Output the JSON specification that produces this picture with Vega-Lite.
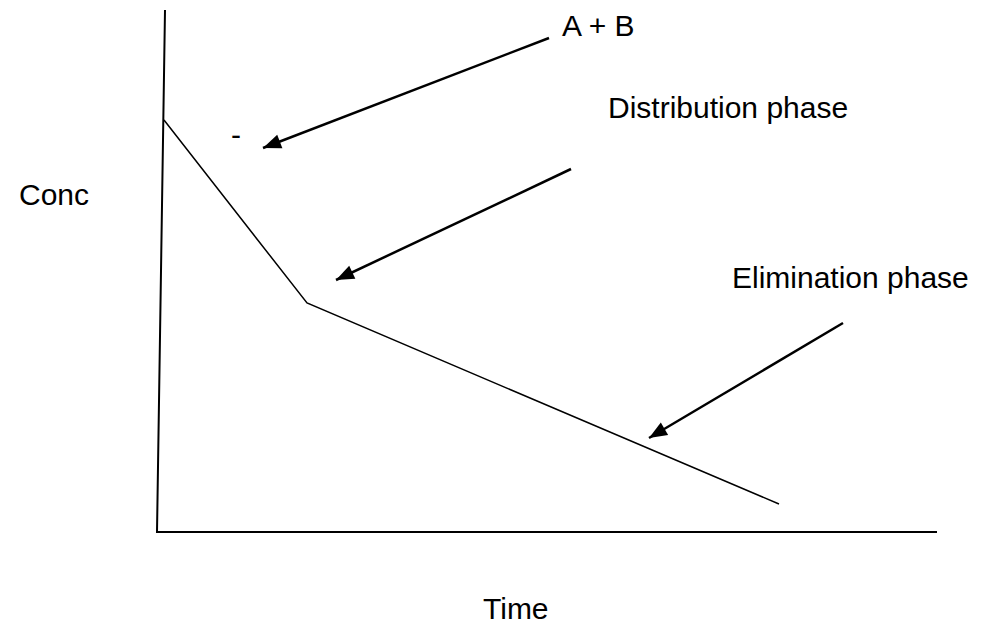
{
  "$schema": "https://vega.github.io/schema/vega-lite/v6.json",
  "width": 990,
  "height": 628,
  "autosize": {"type": "fit", "contains": "padding"},
  "padding": 0,
  "background": "white",
  "config": {"view": {"stroke": null}},
  "datasets": {
    "frame": [
      {"part": "axes", "i": 0, "time": 8, "conc": 522},
      {"part": "axes", "i": 1, "time": 0, "conc": 0},
      {"part": "axes", "i": 2, "time": 780, "conc": 0}
    ],
    "curve": [
      {"i": 0, "time": 7, "conc": 412},
      {"i": 1, "time": 150, "conc": 229},
      {"i": 2, "time": 622, "conc": 28}
    ],
    "arrows": [
      {"arrow": "ab", "end": "tail", "time": 392, "conc": 494},
      {"arrow": "ab", "end": "head", "time": 106, "conc": 384},
      {"arrow": "dist", "end": "tail", "time": 414, "conc": 363},
      {"arrow": "dist", "end": "head", "time": 179, "conc": 252},
      {"arrow": "elim", "end": "tail", "time": 686, "conc": 209},
      {"arrow": "elim", "end": "head", "time": 492, "conc": 94}
    ],
    "labels": [
      {"label": "A + B", "time": 405, "conc": 496},
      {"label": "Distribution phase", "time": 451, "conc": 414},
      {"label": "Elimination phase", "time": 575, "conc": 244},
      {"label": "-", "time": 74, "conc": 387},
      {"label": "Conc", "time": -138, "conc": 327},
      {"label": "Time", "time": 326, "conc": -87}
    ]
  },
  "encoding": {
    "x": {"field": "time", "type": "quantitative", "scale": {"domain": [-157, 833], "nice": false, "zero": false}, "axis": null},
    "y": {"field": "conc", "type": "quantitative", "scale": {"domain": [-96, 532], "nice": false, "zero": false}, "axis": null}
  },
  "layer": [
    {
      "data": {"name": "frame"},
      "mark": {"type": "line", "color": "black", "strokeWidth": 2, "strokeJoin": "miter"},
      "encoding": {"order": {"field": "i", "type": "quantitative"}}
    },
    {
      "data": {"name": "curve"},
      "mark": {"type": "line", "color": "black", "strokeWidth": 1.5},
      "encoding": {"order": {"field": "i", "type": "quantitative"}}
    },
    {
      "data": {"name": "arrows"},
      "mark": {"type": "line", "color": "black", "strokeWidth": 2.5},
      "encoding": {"detail": {"field": "arrow", "type": "nominal"}}
    },
    {
      "data": {"name": "arrows"},
      "transform": [{"filter": "datum.arrow === 'ab' && datum.end === 'head'"}],
      "mark": {"type": "point", "filled": true, "color": "black", "opacity": 1, "shape": "M0,0L-0.4,1L0.4,1Z", "size": 1296, "angle": 249}
    },
    {
      "data": {"name": "arrows"},
      "transform": [{"filter": "datum.arrow === 'dist' && datum.end === 'head'"}],
      "mark": {"type": "point", "filled": true, "color": "black", "opacity": 1, "shape": "M0,0L-0.4,1L0.4,1Z", "size": 1296, "angle": 244.7}
    },
    {
      "data": {"name": "arrows"},
      "transform": [{"filter": "datum.arrow === 'elim' && datum.end === 'head'"}],
      "mark": {"type": "point", "filled": true, "color": "black", "opacity": 1, "shape": "M0,0L-0.4,1L0.4,1Z", "size": 1296, "angle": 239.3}
    },
    {
      "data": {"name": "labels"},
      "mark": {"type": "text", "align": "left", "baseline": "alphabetic", "font": "Liberation Sans", "fontSize": 30, "color": "black"},
      "encoding": {"text": {"field": "label", "type": "nominal"}}
    }
  ]
}
